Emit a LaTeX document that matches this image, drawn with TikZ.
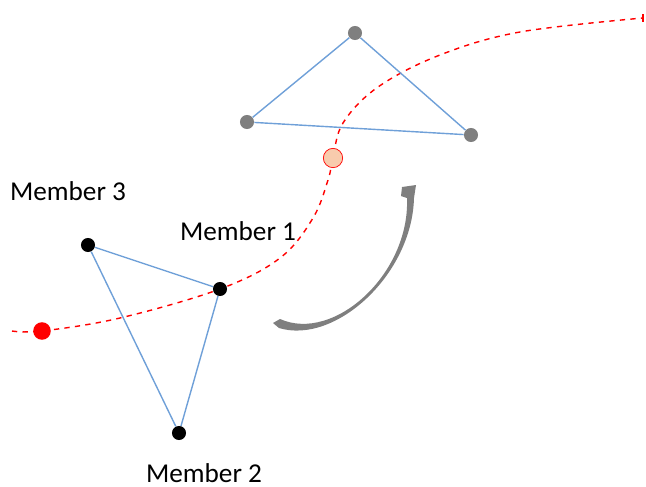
\documentclass[tikz,border=0pt]{standalone}
\usepackage{fontspec}
\setmainfont{Carlito}
\usetikzlibrary{positioning}
\definecolor{linkblue}{HTML}{6FA0D8}
\definecolor{ghostgray}{HTML}{7F7F7F}
\definecolor{pathred}{HTML}{FF0000}
\definecolor{peach}{HTML}{F8CBAD}
\tikzset{
  member/.style={circle, fill=black, inner sep=0pt, minimum size=8pt},
  ghost/.style={circle, fill=ghostgray, inner sep=0pt, minimum size=8pt},
  link/.style={draw=linkblue, line width=0.8pt},
  route/.style={draw=pathred, dashed, line width=0.8pt},
  tag/.style={font=\fontsize{15.5}{18}\selectfont, inner sep=1pt}
}
\begin{document}
\begin{tikzpicture}[x=0.02cm, y=-0.02cm]
\useasboundingbox (0,0) rectangle (646,487);
% trajectory
\draw[route] plot[smooth, tension=0.6] coordinates {(12,331) (42,331) (120,318) (220,289) (280,258) (313,218) (328,180) (333,158) (343,123) (378,87) (440,55) (520,32) (643,18)};
\draw[pathred, line width=1.2pt] (643,14) -- (643,22);
\node[circle, fill=pathred, inner sep=0pt, minimum size=10pt] (start) at (42,331) {};
\node[circle, draw=pathred, fill=peach, inner sep=0pt, minimum size=11pt] (mid) at (333,158) {};
% formation before
\node[member] (m1) at (220,289) {};
\node[member] (m2) at (179,433) {};
\node[member] (m3) at (88,245) {};
\draw[link] (m1) -- (m2) -- (m3) -- (m1);
\node[tag] at (238,231) {Member 1};
\node[tag] at (204,473) {Member 2};
\node[tag] at (68,191) {Member 3};
% formation after
\node[ghost] (g1) at (355,33) {};
\node[ghost] (g2) at (471,135) {};
\node[ghost] (g3) at (247,122) {};
\draw[link] (g1) -- (g2) -- (g3) -- (g1);
% rotation arrow
\fill[ghostgray] (273,323) -- (279,328) .. controls (335,345) and (412,275) .. (414,198)
  -- (416,185) -- (402,187) -- (401,196) -- (407,198)
  .. controls (410,274) and (334,343) .. (280,319) -- cycle;
\end{tikzpicture}
\end{document}
